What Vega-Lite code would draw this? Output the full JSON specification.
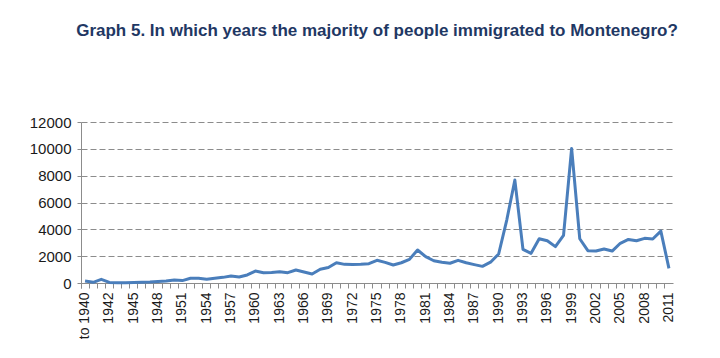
{
  "$schema": "https://vega.github.io/schema/vega-lite/v6.json",
  "width": 592,
  "height": 161,
  "autosize": {"type": "none"},
  "padding": {"left": 81, "top": 122, "right": 47, "bottom": 75},
  "background": "white",
  "title": {
    "text": "Graph 5. In which years the majority of people immigrated to Montenegro?",
    "font": "Liberation Sans",
    "fontSize": 17,
    "fontWeight": "bold",
    "color": "#1F3864",
    "anchor": "middle",
    "offset": 75
  },
  "data": {
    "values": [
      {"year": "to 1940", "people": 150},
      {"year": "1940", "people": 50},
      {"year": "1941", "people": 270},
      {"year": "1942", "people": 40},
      {"year": "1943", "people": 20},
      {"year": "1944", "people": 20},
      {"year": "1945", "people": 30},
      {"year": "1946", "people": 50},
      {"year": "1947", "people": 70},
      {"year": "1948", "people": 110},
      {"year": "1949", "people": 150},
      {"year": "1950", "people": 230},
      {"year": "1951", "people": 180},
      {"year": "1952", "people": 350},
      {"year": "1953", "people": 350},
      {"year": "1954", "people": 280},
      {"year": "1955", "people": 350},
      {"year": "1956", "people": 420},
      {"year": "1957", "people": 520},
      {"year": "1958", "people": 450},
      {"year": "1959", "people": 600},
      {"year": "1960", "people": 890},
      {"year": "1961", "people": 770},
      {"year": "1962", "people": 790},
      {"year": "1963", "people": 840},
      {"year": "1964", "people": 770},
      {"year": "1965", "people": 970},
      {"year": "1966", "people": 820},
      {"year": "1967", "people": 670},
      {"year": "1968", "people": 1020},
      {"year": "1969", "people": 1150},
      {"year": "1970", "people": 1510},
      {"year": "1971", "people": 1390},
      {"year": "1972", "people": 1370},
      {"year": "1973", "people": 1390},
      {"year": "1974", "people": 1440},
      {"year": "1975", "people": 1690},
      {"year": "1976", "people": 1540},
      {"year": "1977", "people": 1340},
      {"year": "1978", "people": 1510},
      {"year": "1979", "people": 1760},
      {"year": "1980", "people": 2460},
      {"year": "1981", "people": 1960},
      {"year": "1982", "people": 1660},
      {"year": "1983", "people": 1540},
      {"year": "1984", "people": 1470},
      {"year": "1985", "people": 1690},
      {"year": "1986", "people": 1510},
      {"year": "1987", "people": 1370},
      {"year": "1988", "people": 1240},
      {"year": "1989", "people": 1550},
      {"year": "1990", "people": 2160},
      {"year": "1991", "people": 4690},
      {"year": "1992", "people": 7670},
      {"year": "1993", "people": 2510},
      {"year": "1994", "people": 2210},
      {"year": "1995", "people": 3300},
      {"year": "1996", "people": 3150},
      {"year": "1997", "people": 2710},
      {"year": "1998", "people": 3550},
      {"year": "1999", "people": 10030},
      {"year": "2000", "people": 3300},
      {"year": "2001", "people": 2410},
      {"year": "2002", "people": 2380},
      {"year": "2003", "people": 2530},
      {"year": "2004", "people": 2380},
      {"year": "2005", "people": 2960},
      {"year": "2006", "people": 3250},
      {"year": "2007", "people": 3150},
      {"year": "2008", "people": 3330},
      {"year": "2009", "people": 3280},
      {"year": "2010", "people": 3870},
      {"year": "2011", "people": 1090}
    ]
  },
  "mark": {"type": "line", "color": "#4A7EBB", "strokeWidth": 3, "strokeJoin": "round"},
  "encoding": {
    "x": {
      "field": "year",
      "type": "ordinal",
      "sort": null,
      "bandPosition": 0.5,
      "scale": {"type": "band", "paddingInner": 0, "paddingOuter": 0},
      "axis": {
        "title": null,
        "bandPosition": 0,
        "tickExtra": true,
        "labelAngle": -90,
        "labelDy": 4,
        "labelOverlap": false,
        "labelExpr": "datum.value == 'to 1940' || (toNumber(datum.value) - 1942) % 3 == 0 ? datum.label : ''",
        "labelFont": "Liberation Sans",
        "labelFontSize": 14,
        "labelColor": "#1a1a1a",
        "labelPadding": 4,
        "domainColor": "#8c8c8c",
        "tickColor": "#8c8c8c",
        "tickSize": 5,
        "grid": false
      }
    },
    "y": {
      "field": "people",
      "type": "quantitative",
      "scale": {"domain": [0, 12000]},
      "axis": {
        "title": null,
        "values": [0, 2000, 4000, 6000, 8000, 10000, 12000],
        "format": "d",
        "labelFont": "Liberation Sans",
        "labelFontSize": 15,
        "labelColor": "#1a1a1a",
        "labelPadding": 6,
        "domainColor": "#8c8c8c",
        "tickColor": "#8c8c8c",
        "tickSize": 4,
        "grid": true,
        "gridColor": "#8c8c8c",
        "gridDash": [6, 3],
        "gridWidth": 1
      }
    }
  },
  "config": {"view": {"stroke": null}}
}
